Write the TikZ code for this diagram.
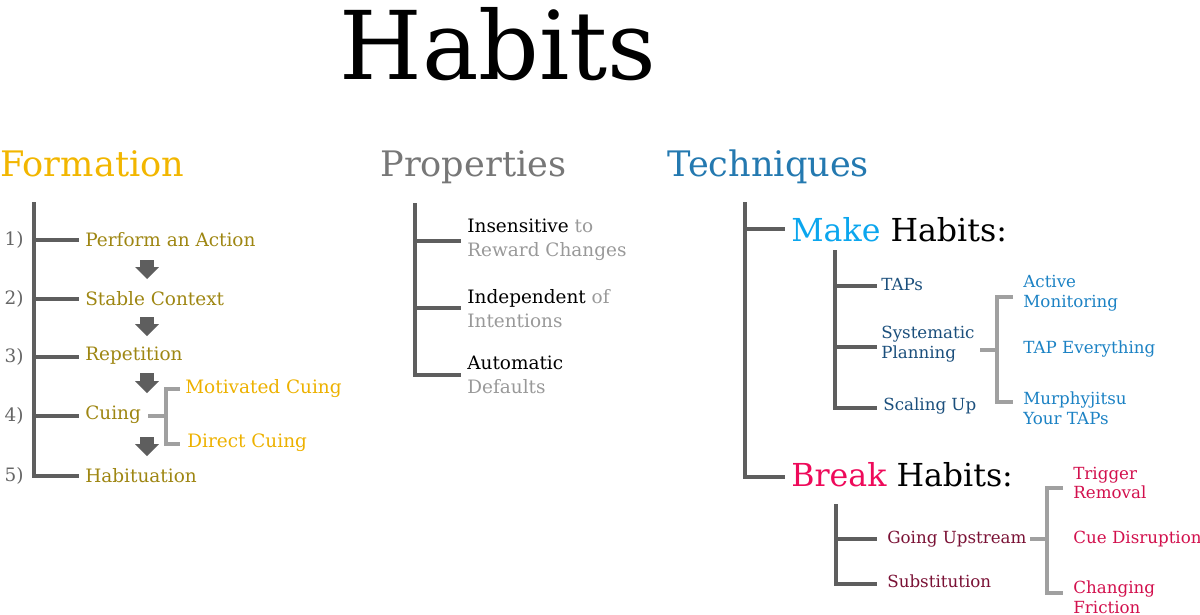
\documentclass[tikz,border=0pt]{standalone}
\usepackage{fontspec}
\setmainfont{DejaVu Serif}
\usetikzlibrary{arrows.meta}

\definecolor{linecol}{HTML}{5E5E5E}
\definecolor{branchcol}{HTML}{A0A0A0}
\definecolor{numcol}{HTML}{666666}
\definecolor{formhd}{HTML}{F2B600}
\definecolor{formit}{HTML}{9E8612}
\definecolor{cuecol}{HTML}{EDB100}
\definecolor{prophd}{HTML}{777777}
\definecolor{propgry}{HTML}{999999}
\definecolor{techhd}{HTML}{2479B0}
\definecolor{makecol}{HTML}{0BA6EE}
\definecolor{makeit}{HTML}{1B4F7C}
\definecolor{makesub}{HTML}{1C82C4}
\definecolor{breakcol}{HTML}{EE0A5A}
\definecolor{breakit}{HTML}{7A1135}
\definecolor{breaksub}{HTML}{D2104D}

\begin{document}
\begin{tikzpicture}[x=.02cm,y=-.02cm]

\tikzstyle{gry}=[line width=2.3pt,draw=linecol]
\tikzstyle{lgt}=[line width=2pt,draw=branchcol]
\tikzstyle{dwn}=[line width=7.9pt,draw=linecol,-{Triangle[width=13.6pt,length=6.8pt,line width=0pt]}]
\tikzstyle{head}=[inner sep=0pt,anchor=base west,font=\fontsize{20}{24}\selectfont]
\tikzstyle{num}=[inner sep=0pt,anchor=east,text=numcol,font=\fontsize{10.5}{13.6}\selectfont]
\tikzstyle{big}=[inner sep=0pt,anchor=west,align=left,font=\fontsize{10.5}{13.6}\selectfont]
\tikzstyle{sml}=[inner sep=0pt,anchor=west,align=left,font=\fontsize{9.5}{11.3}\selectfont]
\tikzstyle{sub}=[inner sep=0pt,anchor=west,font=\fontsize{18}{22}\selectfont]

\useasboundingbox (0,0) rectangle (1200,615);

\node[inner sep=0pt,anchor=base,font=\fontsize{54}{60}\selectfont] (title) at (498,80) {Habits};

\node[head,text=formhd] (form) at (0,176) {Formation};
\node[head,text=prophd] (prop) at (380,176) {Properties};
\node[head,text=techhd] (tech) at (667,176) {Techniques};

% formation
\node[shape=coordinate] (ft) at (34,202){};
\node[shape=coordinate] (fb) at (34,476){};
\node[shape=coordinate] (f5) at (79,476){};
\node[shape=coordinate] (f1l) at (34,240){};
\node[shape=coordinate] (f1r) at (79,240){};
\node[shape=coordinate] (f2l) at (34,299){};
\node[shape=coordinate] (f2r) at (79,299){};
\node[shape=coordinate] (f3l) at (34,357){};
\node[shape=coordinate] (f3r) at (79,357){};
\node[shape=coordinate] (f4l) at (34,416){};
\node[shape=coordinate] (f4r) at (79,416){};

\draw[gry] (ft)--(fb)--(f5);
\draw[gry] (f1l)--(f1r);
\draw[gry] (f2l)--(f2r);
\draw[gry] (f3l)--(f3r);
\draw[gry] (f4l)--(f4r);

\node[num] (n1) at (24,240) {1)};
\node[num] (n2) at (24,299) {2)};
\node[num] (n3) at (24,357) {3)};
\node[num] (n4) at (24,416) {4)};
\node[num] (n5) at (24,476) {5)};

\node[big,text=formit] (perform) at (85,240) {Perform an Action};
\node[big,text=formit] (stable) at (85,299) {Stable Context};
\node[big,text=formit] (repeat) at (85,356) {Repetition};
\node[big,text=formit] (cuing) at (85,415) {Cuing};
\node[big,text=formit] (habit) at (85,476) {Habituation};

\node[shape=coordinate] (a1t) at (147,260){};
\node[shape=coordinate] (a1b) at (147,279){};
\node[shape=coordinate] (a2t) at (147,317){};
\node[shape=coordinate] (a2b) at (147,336){};
\node[shape=coordinate] (a3t) at (147,373){};
\node[shape=coordinate] (a3b) at (147,393){};
\node[shape=coordinate] (a4t) at (147,437){};
\node[shape=coordinate] (a4b) at (147,456){};

\draw[dwn] (a1t)--(a1b);
\draw[dwn] (a2t)--(a2b);
\draw[dwn] (a3t)--(a3b);
\draw[dwn] (a4t)--(a4b);

\node[shape=coordinate] (cs) at (148,416){};
\node[shape=coordinate] (cm) at (166,416){};
\node[shape=coordinate] (cu) at (166,389){};
\node[shape=coordinate] (cd) at (166,444){};
\node[shape=coordinate] (cur) at (180,389){};
\node[shape=coordinate] (cdr) at (180,444){};

\draw[lgt] (cs)--(cm);
\draw[lgt] (cur)--(cu)--(cd)--(cdr);

\node[big,text=cuecol] (motiv) at (185,389) {Motivated Cuing};
\node[big,text=cuecol] (direct) at (187,443) {Direct Cuing};

% properties
\node[shape=coordinate] (pt) at (415,203){};
\node[shape=coordinate] (pb) at (415,375){};
\node[shape=coordinate] (p3) at (461,375){};
\node[shape=coordinate] (p1l) at (415,241){};
\node[shape=coordinate] (p1r) at (461,241){};
\node[shape=coordinate] (p2l) at (415,308){};
\node[shape=coordinate] (p2r) at (461,308){};

\draw[gry] (pt)--(pb)--(p3);
\draw[gry] (p1l)--(p1r);
\draw[gry] (p2l)--(p2r);

\node[big] (insens) at (467,240) {Insensitive \textcolor{propgry}{to}\\\textcolor{propgry}{Reward Changes}};
\node[big] (indep) at (467,309) {Independent \textcolor{propgry}{of}\\\textcolor{propgry}{Intentions}};
\node[big] (auto) at (467,375) {Automatic\\\textcolor{propgry}{Defaults}};

% techniques
\node[shape=coordinate] (tt) at (745,202){};
\node[shape=coordinate] (tb) at (745,477){};
\node[shape=coordinate] (tbr) at (785,477){};
\node[shape=coordinate] (tml) at (745,229){};
\node[shape=coordinate] (tmr) at (785,229){};

\draw[gry] (tt)--(tb)--(tbr);
\draw[gry] (tml)--(tmr);

\node[sub] (make) at (791,230) {\textcolor{makecol}{Make} Habits:};
\node[sub] (break) at (791,475) {\textcolor{breakcol}{Break} Habits:};

\node[shape=coordinate] (mt) at (835,250){};
\node[shape=coordinate] (mb) at (835,408){};
\node[shape=coordinate] (m3) at (877,408){};
\node[shape=coordinate] (m1l) at (835,286){};
\node[shape=coordinate] (m1r) at (877,286){};
\node[shape=coordinate] (m2l) at (835,347){};
\node[shape=coordinate] (m2r) at (877,347){};

\draw[gry] (mt)--(mb)--(m3);
\draw[gry] (m1l)--(m1r);
\draw[gry] (m2l)--(m2r);

\node[sml,text=makeit] (taps) at (881,285) {TAPs};
\node[sml,text=makeit] (sysplan) at (881,344) {Systematic\\Planning};
\node[sml,text=makeit] (scale) at (883,406) {Scaling Up};

\node[shape=coordinate] (ms) at (980,350){};
\node[shape=coordinate] (mm) at (997,350){};
\node[shape=coordinate] (mu) at (997,297){};
\node[shape=coordinate] (md) at (997,402){};
\node[shape=coordinate] (mur) at (1013,297){};
\node[shape=coordinate] (mdr) at (1013,402){};

\draw[lgt] (ms)--(mm);
\draw[lgt] (mur)--(mu)--(md)--(mdr);

\node[sml,text=makesub] (active) at (1023,293) {Active\\Monitoring};
\node[sml,text=makesub] (tapall) at (1023,349) {TAP Everything};
\node[sml,text=makesub] (murphy) at (1023,408) {Murphyjitsu\\Your TAPs};

\node[shape=coordinate] (bt) at (836,504){};
\node[shape=coordinate] (bb) at (836,584){};
\node[shape=coordinate] (b2) at (877,584){};
\node[shape=coordinate] (b1l) at (836,539){};
\node[shape=coordinate] (b1r) at (877,539){};

\draw[gry] (bt)--(bb)--(b2);
\draw[gry] (b1l)--(b1r);

\node[sml,text=breakit] (upstream) at (887,539) {Going Upstream};
\node[sml,text=breakit] (subst) at (887,581) {Substitution};

\node[shape=coordinate] (bs) at (1030,539){};
\node[shape=coordinate] (bm) at (1047,539){};
\node[shape=coordinate] (bu) at (1047,488){};
\node[shape=coordinate] (bd) at (1047,593){};
\node[shape=coordinate] (bur) at (1063,488){};
\node[shape=coordinate] (bdr) at (1063,593){};

\draw[lgt] (bs)--(bm);
\draw[lgt] (bur)--(bu)--(bd)--(bdr);

\node[sml,text=breaksub] (trigger) at (1073,483) {Trigger\\Removal};
\node[sml,text=breaksub] (cuedis) at (1073,539) {Cue Disruption};
\node[sml,text=breaksub] (friction) at (1073,597) {Changing\\Friction};

\end{tikzpicture}
\end{document}
